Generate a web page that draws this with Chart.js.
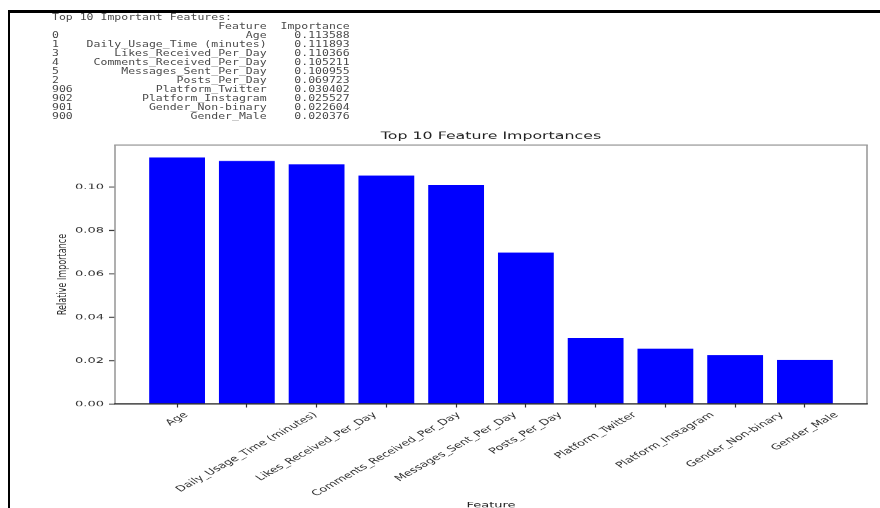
<!DOCTYPE html>
<html>
<head>
<meta charset="utf-8">
<script src="https://cdn.jsdelivr.net/npm/chart.js@4.4.1/dist/chart.umd.min.js"></script>
<style>
  html, body { margin: 0; padding: 0; background: #fff; overflow: hidden; width: 880px; height: 508px; }
  /* the plot is drawn on a tall stage, then flattened vertically */
  #stage { position: absolute; left: 0; top: 0; width: 880px; height: 819px;
           transform: scaleY(0.62027); transform-origin: 0 0; }
  #table { position: absolute; left: 52px; top: 12.5px; margin: 0;
           transform: scaleY(0.7); transform-origin: 0 0;
           font-family: "DejaVu Sans Mono", "Liberation Mono", monospace;
           font-size: 11.5px; line-height: 12.857px; color: #4a4a4a; white-space: pre; }
  #chart { position: absolute; left: 0; top: 0; }
  .edge { position: absolute; background: #000; }
</style>
</head>
<body>
<div id="stage">
  <canvas id="chart" width="880" height="819" style="width:880px;height:819px"></canvas>
</div>
<pre id="table"></pre>
<div class="edge" style="left:7.5px; top:10px; width:872.5px; height:2.5px"></div>
<div class="edge" style="left:7.5px; top:10px; width:2.5px; height:498px"></div>
<script>
// Top 10 features ranked by importance
const rowIndex = [0, 1, 3, 4, 5, 2, 906, 902, 901, 900];
const features = [
  'Age',
  'Daily_Usage_Time (minutes)',
  'Likes_Received_Per_Day',
  'Comments_Received_Per_Day',
  'Messages_Sent_Per_Day',
  'Posts_Per_Day',
  'Platform_Twitter',
  'Platform_Instagram',
  'Gender_Non-binary',
  'Gender_Male'
];
const importances = [0.113588, 0.111893, 0.110366, 0.105211, 0.100955,
                     0.069723, 0.030402, 0.025527, 0.022604, 0.020376];
const yTicks = [0.00, 0.02, 0.04, 0.06, 0.08, 0.10];

// printed table, laid out like a pandas DataFrame
(function () {
  const idxW = Math.max(...rowIndex.map(v => String(v).length));
  const featW = Math.max('Feature'.length, ...features.map(f => f.length));
  const impW = Math.max('Importance'.length, ...importances.map(v => v.toFixed(6).length));
  const lines = ['Top 10 Important Features:'];
  lines.push(' '.repeat(idxW) + '  ' + 'Feature'.padStart(featW) + '  ' + 'Importance'.padStart(impW));
  features.forEach((f, i) => {
    lines.push(String(rowIndex[i]).padEnd(idxW) + '  ' + f.padStart(featW) + '  ' +
               importances[i].toFixed(6).padStart(impW));
  });
  document.getElementById('table').textContent = lines.join('\n');
})();

const FONT = '"DejaVu Sans", "Liberation Sans", sans-serif';
const CHART_TITLE = 'Top 10 Feature Importances';
const LABEL_ANGLE = 42 * Math.PI / 180;

// frame, centred title and slanted category labels
const decor = {
  id: 'decor',
  afterDraw(chart) {
    const { ctx, chartArea: a, scales } = chart;
    ctx.save();
    // frame
    ctx.lineCap = 'butt';
    ctx.strokeStyle = '#9c9c9c';
    ctx.lineWidth = 1.6;
    ctx.beginPath();
    ctx.moveTo(a.left, a.bottom); ctx.lineTo(a.left, a.top);
    ctx.moveTo(a.right, a.bottom); ctx.lineTo(a.right, a.top);
    ctx.stroke();
    ctx.lineWidth = 2.0;
    ctx.beginPath();
    ctx.moveTo(a.left - 0.8, a.top); ctx.lineTo(a.right + 0.8, a.top);
    ctx.stroke();
    ctx.strokeStyle = '#222';
    ctx.lineWidth = 2.0;
    ctx.beginPath();
    ctx.moveTo(a.left - 0.8, a.bottom); ctx.lineTo(a.right + 0.8, a.bottom);
    ctx.stroke();

    // title
    ctx.fillStyle = '#222';
    ctx.font = '15.8px ' + FONT;
    ctx.textAlign = 'center';
    ctx.textBaseline = 'middle';
    ctx.fillText(CHART_TITLE, (a.left + a.right) / 2, 220.1);

    // category labels, centred under each tick
    const xs = scales.x;
    const fs = 13;
    ctx.font = fs + 'px ' + FONT;
    ctx.fillStyle = '#333';
    const top = a.bottom + 10.3;
    const sn = Math.sin(LABEL_ANGLE), cs = Math.cos(LABEL_ANGLE);
    features.forEach((label, i) => {
      const x = xs.getPixelForValue(i);
      const w = ctx.measureText(label).width;
      const h = fs * 1.15;
      const cy = top + (w * sn + h * cs) / 2;
      ctx.save();
      ctx.translate(x, cy);
      ctx.rotate(-LABEL_ANGLE);
      ctx.fillText(label, 0, 0);
      ctx.restore();
    });
    ctx.restore();
  }
};

const yMax = Math.max(...importances) * 1.05;

new Chart(document.getElementById('chart'), {
  type: 'bar',
  data: {
    datasets: [{
      label: 'Importance',
      data: importances.map((v, i) => ({ x: i, y: v })),
      backgroundColor: '#0000ff',
      borderWidth: 0,
      categoryPercentage: 1.0,
      barPercentage: 0.8
    }]
  },
  options: {
    responsive: false,
    animation: false,
    devicePixelRatio: 1,
    layout: { padding: { left: 0, right: 13, top: 233.8, bottom: 0 } },
    plugins: {
      legend: { display: false },
      title: { display: false },
      tooltip: { enabled: false }
    },
    scales: {
      x: {
        type: 'linear',
        offset: false,
        min: -0.89,
        max: 9.89,
        afterBuildTicks: s => { s.ticks = features.map((_, i) => ({ value: i })); },
        ticks: { display: false },
        grid: { offset: false, drawOnChartArea: false, drawTicks: true, tickLength: 5.6,
                tickColor: '#333', tickWidth: 1.2 },
        border: { display: false },
        title: { display: true, text: 'Feature', color: '#222',
                 font: { family: FONT, size: 13 }, padding: { top: 0, bottom: -3.0 } },
        afterFit: s => { s.height = 167.7; }
      },
      y: {
        min: 0,
        max: yMax,
        afterBuildTicks: s => { s.ticks = yTicks.map(v => ({ value: v })); },
        ticks: { callback: v => Number(v).toFixed(2), color: '#333', padding: 5,
                 font: { family: FONT, size: 13 } },
        grid: { drawOnChartArea: false, drawTicks: true, tickLength: 6,
                tickColor: '#333', tickWidth: 1.6 },
        border: { display: false },
        title: { display: true, text: 'Relative Importance', color: '#222',
                 font: { family: FONT, size: 13 }, padding: { top: 54.7, bottom: 0 } },
        afterFit: s => { s.width = 115; }
      }
    }
  },
  plugins: [decor]
});
</script>
</body>
</html>
